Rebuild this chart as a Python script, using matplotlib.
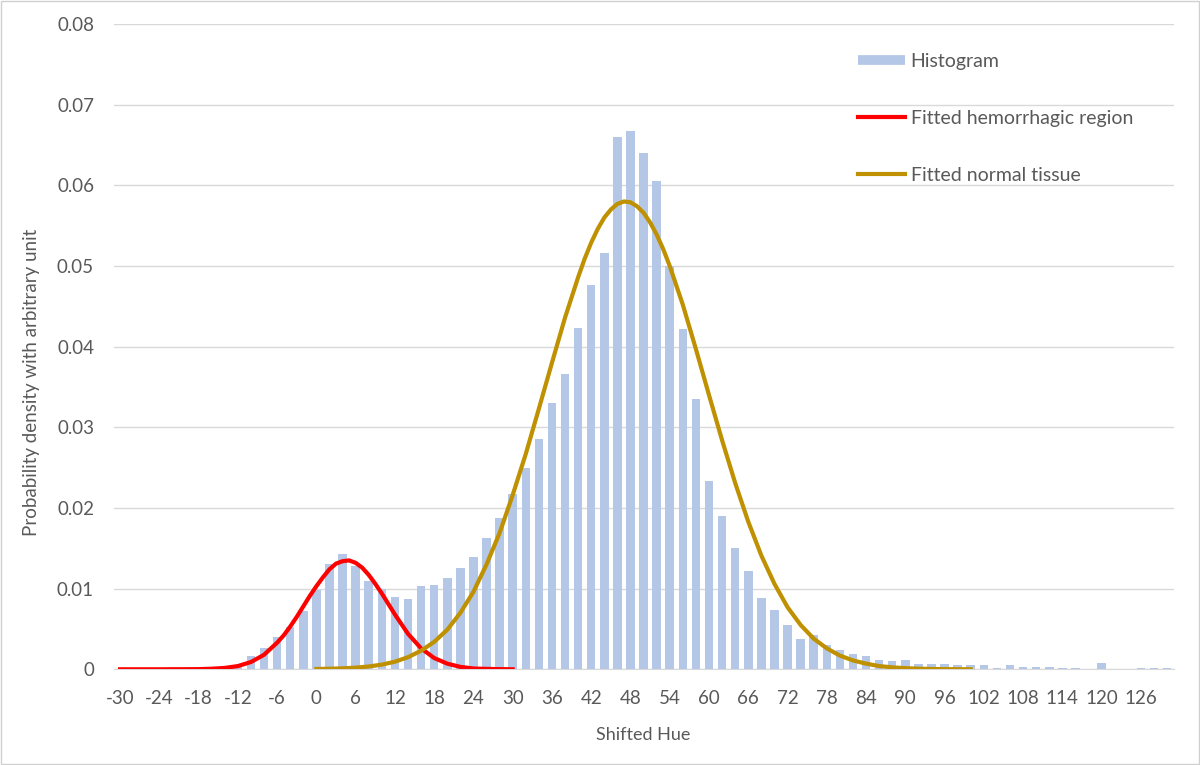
import matplotlib.pyplot as plt
from matplotlib.lines import Line2D
from matplotlib.patches import Rectangle
import numpy as np

plt.rcParams['font.family'] = ['Lato', 'DejaVu Sans']

# histogram of shifted hue, one bar every 2 units from -30 to 130
hue = list(range(-30, 131, 2))
density = [0, 0, 0, 0, 0, 0, 0, 0, 0,
           0.0003, 0.0017, 0.0027, 0.0040, 0.0053, 0.0072, 0.0098, 0.0131, 0.0143, 0.0128,
           0.0110, 0.0099, 0.0090, 0.0087, 0.0103, 0.0105, 0.0113, 0.0126, 0.0139, 0.0163,
           0.0188, 0.0217, 0.0249, 0.0285, 0.0330, 0.0366, 0.0423, 0.0477, 0.0516, 0.0660,
           0.0667, 0.0640, 0.0605, 0.0500, 0.0422, 0.0335, 0.0233, 0.0190, 0.0150, 0.0122,
           0.0089, 0.0073, 0.0055, 0.0037, 0.0042, 0.0030, 0.0024, 0.0019, 0.0016, 0.0012,
           0.0010, 0.0012, 0.0007, 0.0007, 0.0007, 0.0005, 0.0005, 0.0005, 0.0001, 0.0005,
           0.0003, 0.0003, 0.0003, 0.0001, 0.0001, 0, 0.0008, 0, 0, 0.0001,
           0.0001, 0.0001]

# fitted hemorrhagic region (red), -30..30, finer steps near the peak
hem_x = [-30, -28, -26, -24, -22, -20, -18, -16, -14, -12, -10, -8, -6, -5, -4, -3, -2, -1,
         0, 1, 2, 3, 4, 5, 6, 7, 8, 9, 10, 11, 12, 13, 14, 16, 18, 20, 22, 24, 26, 28, 30]
hem_y = [0, 0, 0, 0, 0.00001, 0.00001, 0.00002, 0.00007, 0.00017, 0.0004, 0.0009, 0.0018,
         0.0033, 0.0042, 0.0053, 0.0065, 0.0078, 0.0091, 0.0103, 0.0114, 0.0124, 0.0131,
         0.0134, 0.0135, 0.0132, 0.0126, 0.0117, 0.0106, 0.0094, 0.0081, 0.0068, 0.0056,
         0.0044, 0.0026, 0.0014, 0.0007, 0.0003, 0.0001, 0.00005, 0.00002, 0]

# fitted normal tissue (gold), 0..100, finer steps near the peak
nor_x = [0, 2, 4, 6, 8, 10, 12, 14, 16, 18, 20, 22, 24, 26, 28, 30, 32, 34, 36, 38, 40,
         41, 42, 43, 44, 45, 46, 47, 48, 49, 50, 51, 52, 53, 54, 56, 58, 60, 62, 64, 66,
         68, 70, 72, 74, 76, 78, 80, 82, 84, 86, 88, 90, 92, 94, 96, 98, 100]
nor_y = [0.00004, 0.00007, 0.00012, 0.0002, 0.00035, 0.00058, 0.00094, 0.0015, 0.0023, 0.0034,
         0.0049, 0.0070, 0.0096, 0.0130, 0.0169, 0.0216, 0.0267, 0.0323, 0.0380, 0.0436,
         0.0486, 0.0509, 0.0529, 0.0546, 0.0560, 0.0570, 0.0577, 0.0580, 0.0579, 0.0574,
         0.0566, 0.0554, 0.0539, 0.0521, 0.0500, 0.0452, 0.0397, 0.0340, 0.0284, 0.0231,
         0.0183, 0.0141, 0.0106, 0.0077, 0.0055, 0.0038, 0.0026, 0.0017, 0.0011, 0.0007,
         0.0004, 0.00024, 0.00014, 0.00008, 0.00004, 0.00002, 0.00001, 0]

xticks = list(range(-30, 127, 6))
yticks = [0, 0.01, 0.02, 0.03, 0.04, 0.05, 0.06, 0.07, 0.08]

gray = '#595959'
fig = plt.figure(figsize=(12, 7.65), dpi=100)
ax = fig.add_axes([0.0946, 0.1251, 0.8834, 0.8435])

ax.bar(hue, density, width=1.3, color='#b4c7e7', zorder=2)
ax.plot(hem_x, hem_y, color='#ff0000', lw=3, zorder=3)
ax.plot(nor_x, nor_y, color='#bf9000', lw=3, zorder=3)

ax.set_xlim(-31, 131)
ax.set_ylim(0, 0.08)
ax.set_xticks(xticks)
ax.set_xticklabels([str(t) for t in xticks])
ax.set_yticks(yticks)
ax.set_yticklabels(['0'] + ['%.2f' % t for t in yticks[1:]])
ax.tick_params(length=0, colors=gray, labelsize=13.5)
ax.tick_params(axis='x', pad=15)
ax.tick_params(axis='y', pad=14)
ax.grid(axis='y', color='#d9d9d9', lw=1, zorder=0)
for s in ['top', 'right', 'left']:
    ax.spines[s].set_visible(False)
ax.spines['bottom'].set_color('#d9d9d9')
ax.spines['bottom'].set_zorder(1)

ax.set_xlabel('Shifted Hue', color=gray, fontsize=13, labelpad=14)
ax.set_ylabel('Probability density with arbitrary unit', color=gray, fontsize=13.5)
ax.yaxis.set_label_coords(-0.069, 0.445)

handles = [Line2D([], [], color='#b4c7e7', lw=7, solid_capstyle='butt'),
           Line2D([], [], color='#ff0000', lw=3),
           Line2D([], [], color='#bf9000', lw=3)]
labels = ['Histogram', 'Fitted hemorrhagic region', 'Fitted normal tissue']
leg = ax.legend(handles, labels, loc='upper left', bbox_to_anchor=(0.686, 0.982),
                frameon=False, fontsize=14, labelspacing=2.05, handlelength=2.4,
                handletextpad=0.3, labelcolor=gray)

fig.patches.append(Rectangle((0.001, 0.001), 0.998, 0.998, transform=fig.transFigure,
                             fill=False, edgecolor='#d0d0d0', lw=1))

plt.savefig('out.png')
